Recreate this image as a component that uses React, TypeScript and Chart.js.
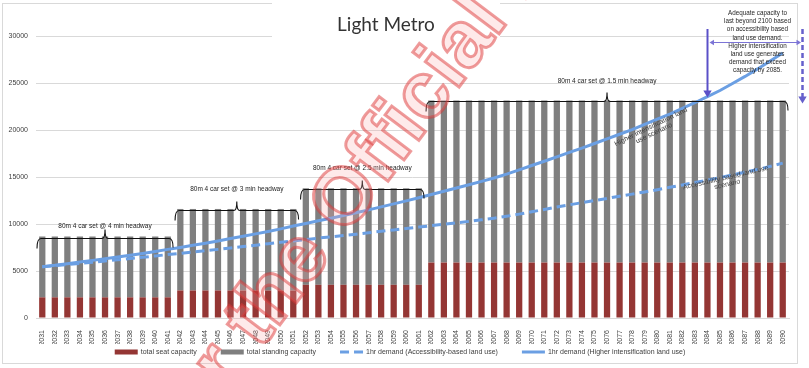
import React, { useEffect, useRef } from "react";
import { Chart, registerables } from "chart.js";

Chart.register(...registerables);

const YEARS = [
  "2031", "2032", "2033", "2034", "2035", "2036", "2037", "2038", "2039", "2040",
  "2041", "2042", "2043", "2044", "2045", "2046", "2047", "2048", "2049", "2050",
  "2051", "2052", "2053", "2054", "2055", "2056", "2057", "2058", "2059", "2060",
  "2061", "2062", "2063", "2064", "2065", "2066", "2067", "2068", "2069", "2070",
  "2071", "2072", "2073", "2074", "2075", "2076", "2077", "2078", "2079", "2080",
  "2081", "2082", "2083", "2084", "2085", "2086", "2087", "2088", "2089", "2090",
];

const SEAT_CAPACITY = [
  2200, 2200, 2200, 2200, 2200, 2200, 2200, 2200, 2200, 2200, 2200,
  2930, 2930, 2930, 2930, 2930, 2930, 2930, 2930, 2930, 2930,
  3530, 3530, 3530, 3530, 3530, 3530, 3530, 3530, 3530, 3530,
  5900, 5900, 5900, 5900, 5900, 5900, 5900, 5900, 5900, 5900,
  5900, 5900, 5900, 5900, 5900, 5900, 5900, 5900, 5900, 5900,
  5900, 5900, 5900, 5900, 5900, 5900, 5900, 5900, 5900,
];

const STANDING_CAPACITY = [
  6470, 6470, 6470, 6470, 6470, 6470, 6470, 6470, 6470, 6470, 6470,
  8670, 8670, 8670, 8670, 8670, 8670, 8670, 8670, 8670, 8670,
  10270, 10270, 10270, 10270, 10270, 10270, 10270, 10270, 10270, 10270,
  17250, 17250, 17250, 17250, 17250, 17250, 17250, 17250, 17250, 17250,
  17250, 17250, 17250, 17250, 17250, 17250, 17250, 17250, 17250, 17250,
  17250, 17250, 17250, 17250, 17250, 17250, 17250, 17250, 17250,
];

const DEMAND_ACCESSIBILITY = [
  5450, 5560, 5680, 5800, 5930, 6060, 6190, 6320, 6460, 6600,
  6750, 6880, 7020, 7160, 7300, 7450, 7600, 7750, 7900, 8050,
  8200, 8350, 8500, 8640, 8780, 8920, 9070, 9220, 9370, 9520,
  9670, 9820, 9970, 10120, 10280, 10440, 10620, 10820, 11050, 11300,
  11550, 11800, 12040, 12270, 12500, 12720, 12950, 13180, 13410, 13650,
  13900, 14150, 14410, 14670, 14940, 15220, 15510, 15810, 16130, 16480,
];

const DEMAND_HIGHER = [
  5450, 5600, 5780, 5950, 6130, 6300, 6480, 6670, 6870, 7080,
  7300, 7500, 7730, 7960, 8200, 8450, 8700, 8950, 9200, 9480,
  9780, 10060, 10340, 10620, 10900, 11200, 11500, 11820, 12140, 12460,
  12800, 13140, 13480, 13830, 14180, 14540, 14900, 15300, 15750, 16220,
  16680, 17150, 17620, 18080, 18560, 19050, 19550, 20050, 20600, 21150,
  21700, 22300, 22900, 23550, 24200, 24950, 25700, 26500, 27350, 28200,
];

const Y_TICKS = [0, 5000, 10000, 15000, 20000, 25000, 30000];

const SERVICE_GROUPS = [
  { label: "80m 4 car set @ 4 min headway", first: "2031", last: "2041" },
  { label: "80m 4 car set @ 3 min headway", first: "2042", last: "2051" },
  { label: "80m 4 car set @ 2.5 min headway", first: "2052", last: "2061" },
  { label: "80m 4 car set @ 1.5 min headway", first: "2062", last: "2090" },
];

const TITLE = "Light Metro";
const NOTE_LINES = [
  "Adequate capacity to",
  "last beyond 2100 based",
  "on accessibility based",
  "land use demand.",
  "Higher intensification",
  "land use generates",
  "demand that exceed",
  "capacity by 2085.",
];
const NOTE_YEAR = "2084";
const HIGHER_LABEL = ["Higher intensification land", "use scenario"];
const ACCESS_LABEL = ["Accessibility based land use", "scenario"];
const WATERMARK = "Released under the Official Information Act";
const WATERMARK_PREFIX = "Released under the ";

const LEGEND_ITEMS = [
  { kind: "rect", label: "total seat capacity" },
  { kind: "rect", label: "total standing capacity" },
  { kind: "dash", label: "1hr demand (Accessibility-based land use)" },
  { kind: "line", label: "1hr demand (Higher intensification land use)" },
];

const SEAT_COLOR = "#943634";
const STAND_COLOR = "#7f7f7f";
const LINE_COLOR = "#6b9fe3";
const TEXT_COLOR = "#404040";
const SMALL_FONT = '7px "Liberation Sans", Arial, sans-serif';
const PURPLE = "#5a50c8";

function arrowHead(ctx: CanvasRenderingContext2D, x: number, y: number, dir: "down" | "left" | "right", size: number, color: string) {
  ctx.save();
  ctx.fillStyle = color;
  ctx.beginPath();
  if (dir === "down") {
    ctx.moveTo(x, y);
    ctx.lineTo(x - size * 0.6, y - size);
    ctx.lineTo(x + size * 0.6, y - size);
  } else if (dir === "left") {
    ctx.moveTo(x, y);
    ctx.lineTo(x + size, y - size * 0.6);
    ctx.lineTo(x + size, y + size * 0.6);
  } else {
    ctx.moveTo(x, y);
    ctx.lineTo(x - size, y - size * 0.6);
    ctx.lineTo(x - size, y + size * 0.6);
  }
  ctx.closePath();
  ctx.fill();
  ctx.restore();
}

function rotatedLines(ctx: CanvasRenderingContext2D, lines: string[], cx: number, cy: number, deg: number, lh: number) {
  ctx.save();
  ctx.translate(cx, cy);
  ctx.rotate((deg * Math.PI) / 180);
  ctx.font = SMALL_FONT;
  ctx.fillStyle = TEXT_COLOR;
  ctx.textAlign = "center";
  ctx.textBaseline = "middle";
  lines.forEach((l, i) => ctx.fillText(l, 0, (i - (lines.length - 1) / 2) * lh));
  ctx.restore();
}

const annotations = {
  id: "annotations",
  beforeDraw(chart: any) {
    const ctx = chart.ctx as CanvasRenderingContext2D;
    ctx.save();
    ctx.fillStyle = "#ffffff";
    ctx.fillRect(0, 0, chart.width, chart.height);
    ctx.strokeStyle = "#d9d9d9";
    ctx.lineWidth = 1;
    ctx.strokeRect(2.5, 3.5, 795, 360);
    ctx.restore();
  },
  afterDatasetsDraw(chart: any) {
    const ctx = chart.ctx as CanvasRenderingContext2D;
    const xs = chart.scales.x;
    const ys = chart.scales.y;
    const half = (xs.getPixelForValue(1) - xs.getPixelForValue(0)) / 2;
    const labelGap = [12, 21, 21, 20];
    ctx.save();
    SERVICE_GROUPS.forEach((g, gi) => {
      const i0 = YEARS.indexOf(g.first);
      const i1 = YEARS.indexOf(g.last);
      const x0 = xs.getPixelForValue(i0) - half + 1;
      const x1 = xs.getPixelForValue(i1) + half - 1;
      const y = Math.round(ys.getPixelForValue(SEAT_CAPACITY[i0] + STANDING_CAPACITY[i0])) + 1.5;
      const xc = (x0 + x1) / 2;
      ctx.strokeStyle = "#111";
      ctx.lineWidth = 1.1;
      ctx.beginPath();
      ctx.moveTo(x0, y + 10);
      ctx.quadraticCurveTo(x0, y, x0 + 4, y);
      ctx.lineTo(xc - 3, y);
      ctx.quadraticCurveTo(xc, y, xc, y - 9);
      ctx.quadraticCurveTo(xc, y, xc + 3, y);
      ctx.lineTo(x1 - 4, y);
      ctx.quadraticCurveTo(x1, y, x1, y + 9);
      ctx.stroke();
      ctx.font = '6.5px "Liberation Sans", Arial, sans-serif';
      ctx.fillStyle = "#222";
      ctx.textAlign = "center";
      ctx.textBaseline = "middle";
      ctx.fillText(g.label, xc, y - labelGap[gi]);
    });

    rotatedLines(ctx, HIGHER_LABEL, 652.5, 130, -26, 7);
    rotatedLines(ctx, ACCESS_LABEL, 726.5, 181, -13, 6.8);

    // arrows
    const ni = YEARS.indexOf(NOTE_YEAR);
    const ax = Math.round(xs.getPixelForValue(ni)) + 0.5;
    const tipY = ys.getPixelForValue(SEAT_CAPACITY[ni] + STANDING_CAPACITY[ni]) - 3;
    ctx.strokeStyle = PURPLE;
    ctx.lineWidth = 2;
    ctx.beginPath();
    ctx.moveTo(ax, 29);
    ctx.lineTo(ax, tipY - 6);
    ctx.stroke();
    arrowHead(ctx, ax, tipY, "down", 7, PURPLE);

    const hy = 42.5;
    ctx.strokeStyle = "#7c74d6";
    ctx.lineWidth = 1;
    ctx.beginPath();
    ctx.moveTo(ax + 4, hy);
    ctx.lineTo(798, hy);
    ctx.stroke();
    arrowHead(ctx, ax + 2, hy, "left", 4.5, "#7c74d6");
    arrowHead(ctx, 801, hy, "right", 4.5, "#7c74d6");

    const dx = 802.5;
    ctx.strokeStyle = "#6660cc";
    ctx.lineWidth = 2.5;
    ctx.setLineDash([5, 3]);
    ctx.beginPath();
    ctx.moveTo(dx, 29);
    ctx.lineTo(dx, tipY);
    ctx.stroke();
    ctx.setLineDash([]);
    arrowHead(ctx, dx, tipY + 6, "down", 7, "#6660cc");
    ctx.restore();
  },
  afterDraw(chart: any) {
    const ctx = chart.ctx as CanvasRenderingContext2D;
    ctx.save();
    // title box
    ctx.fillStyle = "#ffffff";
    ctx.fillRect(272, 0, 228, 37.5);
    ctx.fillStyle = "#333333";
    ctx.font = '19px Lato, "Liberation Sans", sans-serif';
    ctx.textAlign = "center";
    ctx.textBaseline = "middle";
    ctx.fillText(TITLE, 386, 25);

    // note
    ctx.font = '6.3px "Liberation Sans", Arial, sans-serif';
    ctx.fillStyle = "#262626";
    NOTE_LINES.forEach((l, i) => ctx.fillText(l, 757.5, 13.3 + i * 8.2));

    // legend
    ctx.font = SMALL_FONT;
    const sw = 23;
    const gap = 24;
    const widths = LEGEND_ITEMS.map((it) => ctx.measureText(it.label).width);
    const total = widths.reduce((a, b) => a + b + sw + 3, 0) + gap * (LEGEND_ITEMS.length - 1);
    let lx = 400 - total / 2;
    const ly = 352.5;
    LEGEND_ITEMS.forEach((it, i) => {
      if (it.kind === "rect") {
        ctx.fillStyle = i === 0 ? SEAT_COLOR : STAND_COLOR;
        ctx.fillRect(lx, ly - 3, sw, 5);
      } else {
        ctx.strokeStyle = LINE_COLOR;
        ctx.lineWidth = 3;
        ctx.setLineDash(it.kind === "dash" ? [9, 5] : []);
        ctx.beginPath();
        ctx.moveTo(lx, ly - 0.5);
        ctx.lineTo(lx + sw, ly - 0.5);
        ctx.stroke();
        ctx.setLineDash([]);
      }
      ctx.fillStyle = TEXT_COLOR;
      ctx.textAlign = "left";
      ctx.textBaseline = "middle";
      ctx.fillText(it.label, lx + sw + 3, ly);
      lx += sw + 3 + widths[i] + gap;
    });

    // watermark
    ctx.font = 'bold 80px "Liberation Sans", Arial, sans-serif';
    const pw = ctx.measureText(WATERMARK_PREFIX).width;
    ctx.translate(346, 237);
    ctx.rotate((-53 * Math.PI) / 180);
    ctx.textAlign = "left";
    ctx.textBaseline = "alphabetic";
    ctx.fillStyle = "rgba(250,170,170,0.25)";
    ctx.fillText(WATERMARK, -pw, 0);
    ctx.lineWidth = 3;
    ctx.strokeStyle = "rgba(222,55,55,0.5)";
    ctx.strokeText(WATERMARK, -pw, 0);
    ctx.restore();
  },
};

export default function App() {
  const ref = useRef<HTMLCanvasElement>(null);
  useEffect(() => {
    document.body.style.margin = "0";
    const canvas = ref.current!;
    Chart.defaults.font.family = '"Liberation Sans", Arial, sans-serif';
    const chart = new Chart(canvas, {
      type: "bar",
      data: {
        labels: YEARS,
        datasets: [
          {
            type: "line",
            label: "1hr demand (Accessibility-based land use)",
            data: DEMAND_ACCESSIBILITY,
            borderColor: LINE_COLOR,
            borderWidth: 3,
            borderDash: [9, 5],
            pointRadius: 0,
            fill: false,
            stack: "acc",
            order: 0,
          } as any,
          {
            type: "line",
            label: "1hr demand (Higher intensification land use)",
            data: DEMAND_HIGHER,
            borderColor: LINE_COLOR,
            borderWidth: 3,
            pointRadius: 0,
            fill: false,
            stack: "hi",
            order: 0,
          } as any,
          {
            type: "bar",
            label: "total seat capacity",
            data: SEAT_CAPACITY,
            backgroundColor: SEAT_COLOR,
            stack: "cap",
            order: 1,
            barPercentage: 0.5,
            categoryPercentage: 1,
          },
          {
            type: "bar",
            label: "total standing capacity",
            data: STANDING_CAPACITY,
            backgroundColor: STAND_COLOR,
            stack: "cap",
            order: 1,
            barPercentage: 0.5,
            categoryPercentage: 1,
          },
        ],
      },
      options: {
        responsive: false,
        animation: false,
        devicePixelRatio: 1,
        layout: { padding: { top: 36, right: 20, bottom: 24, left: 0 } },
        plugins: {
          legend: { display: false },
          title: { display: false },
          tooltip: { enabled: false },
        },
        scales: {
          x: {
            stacked: true,
            grid: { display: false },
            border: { color: "#d9d9d9" },
            ticks: {
              autoSkip: false,
              maxRotation: 90,
              minRotation: 90,
              padding: 4,
              color: TEXT_COLOR,
              font: { size: 7 },
            },
            afterFit: (s: any) => {
              s.height = 26;
            },
          },
          y: {
            stacked: true,
            min: 0,
            max: 30000,
            grid: { color: "#d9d9d9", drawTicks: false },
            border: { display: false },
            ticks: {
              padding: 8,
              color: TEXT_COLOR,
              font: { size: 7 },
              callback: (v: any) => String(v),
            },
            afterBuildTicks: (s: any) => {
              s.ticks = Y_TICKS.map((v) => ({ value: v }));
            },
            afterFit: (s: any) => {
              s.width = 36;
            },
          },
        },
      },
      plugins: [annotations],
    });
    return () => chart.destroy();
  }, []);
  return <canvas ref={ref} width={809} height={368} style={{ display: "block" }} />;
}
